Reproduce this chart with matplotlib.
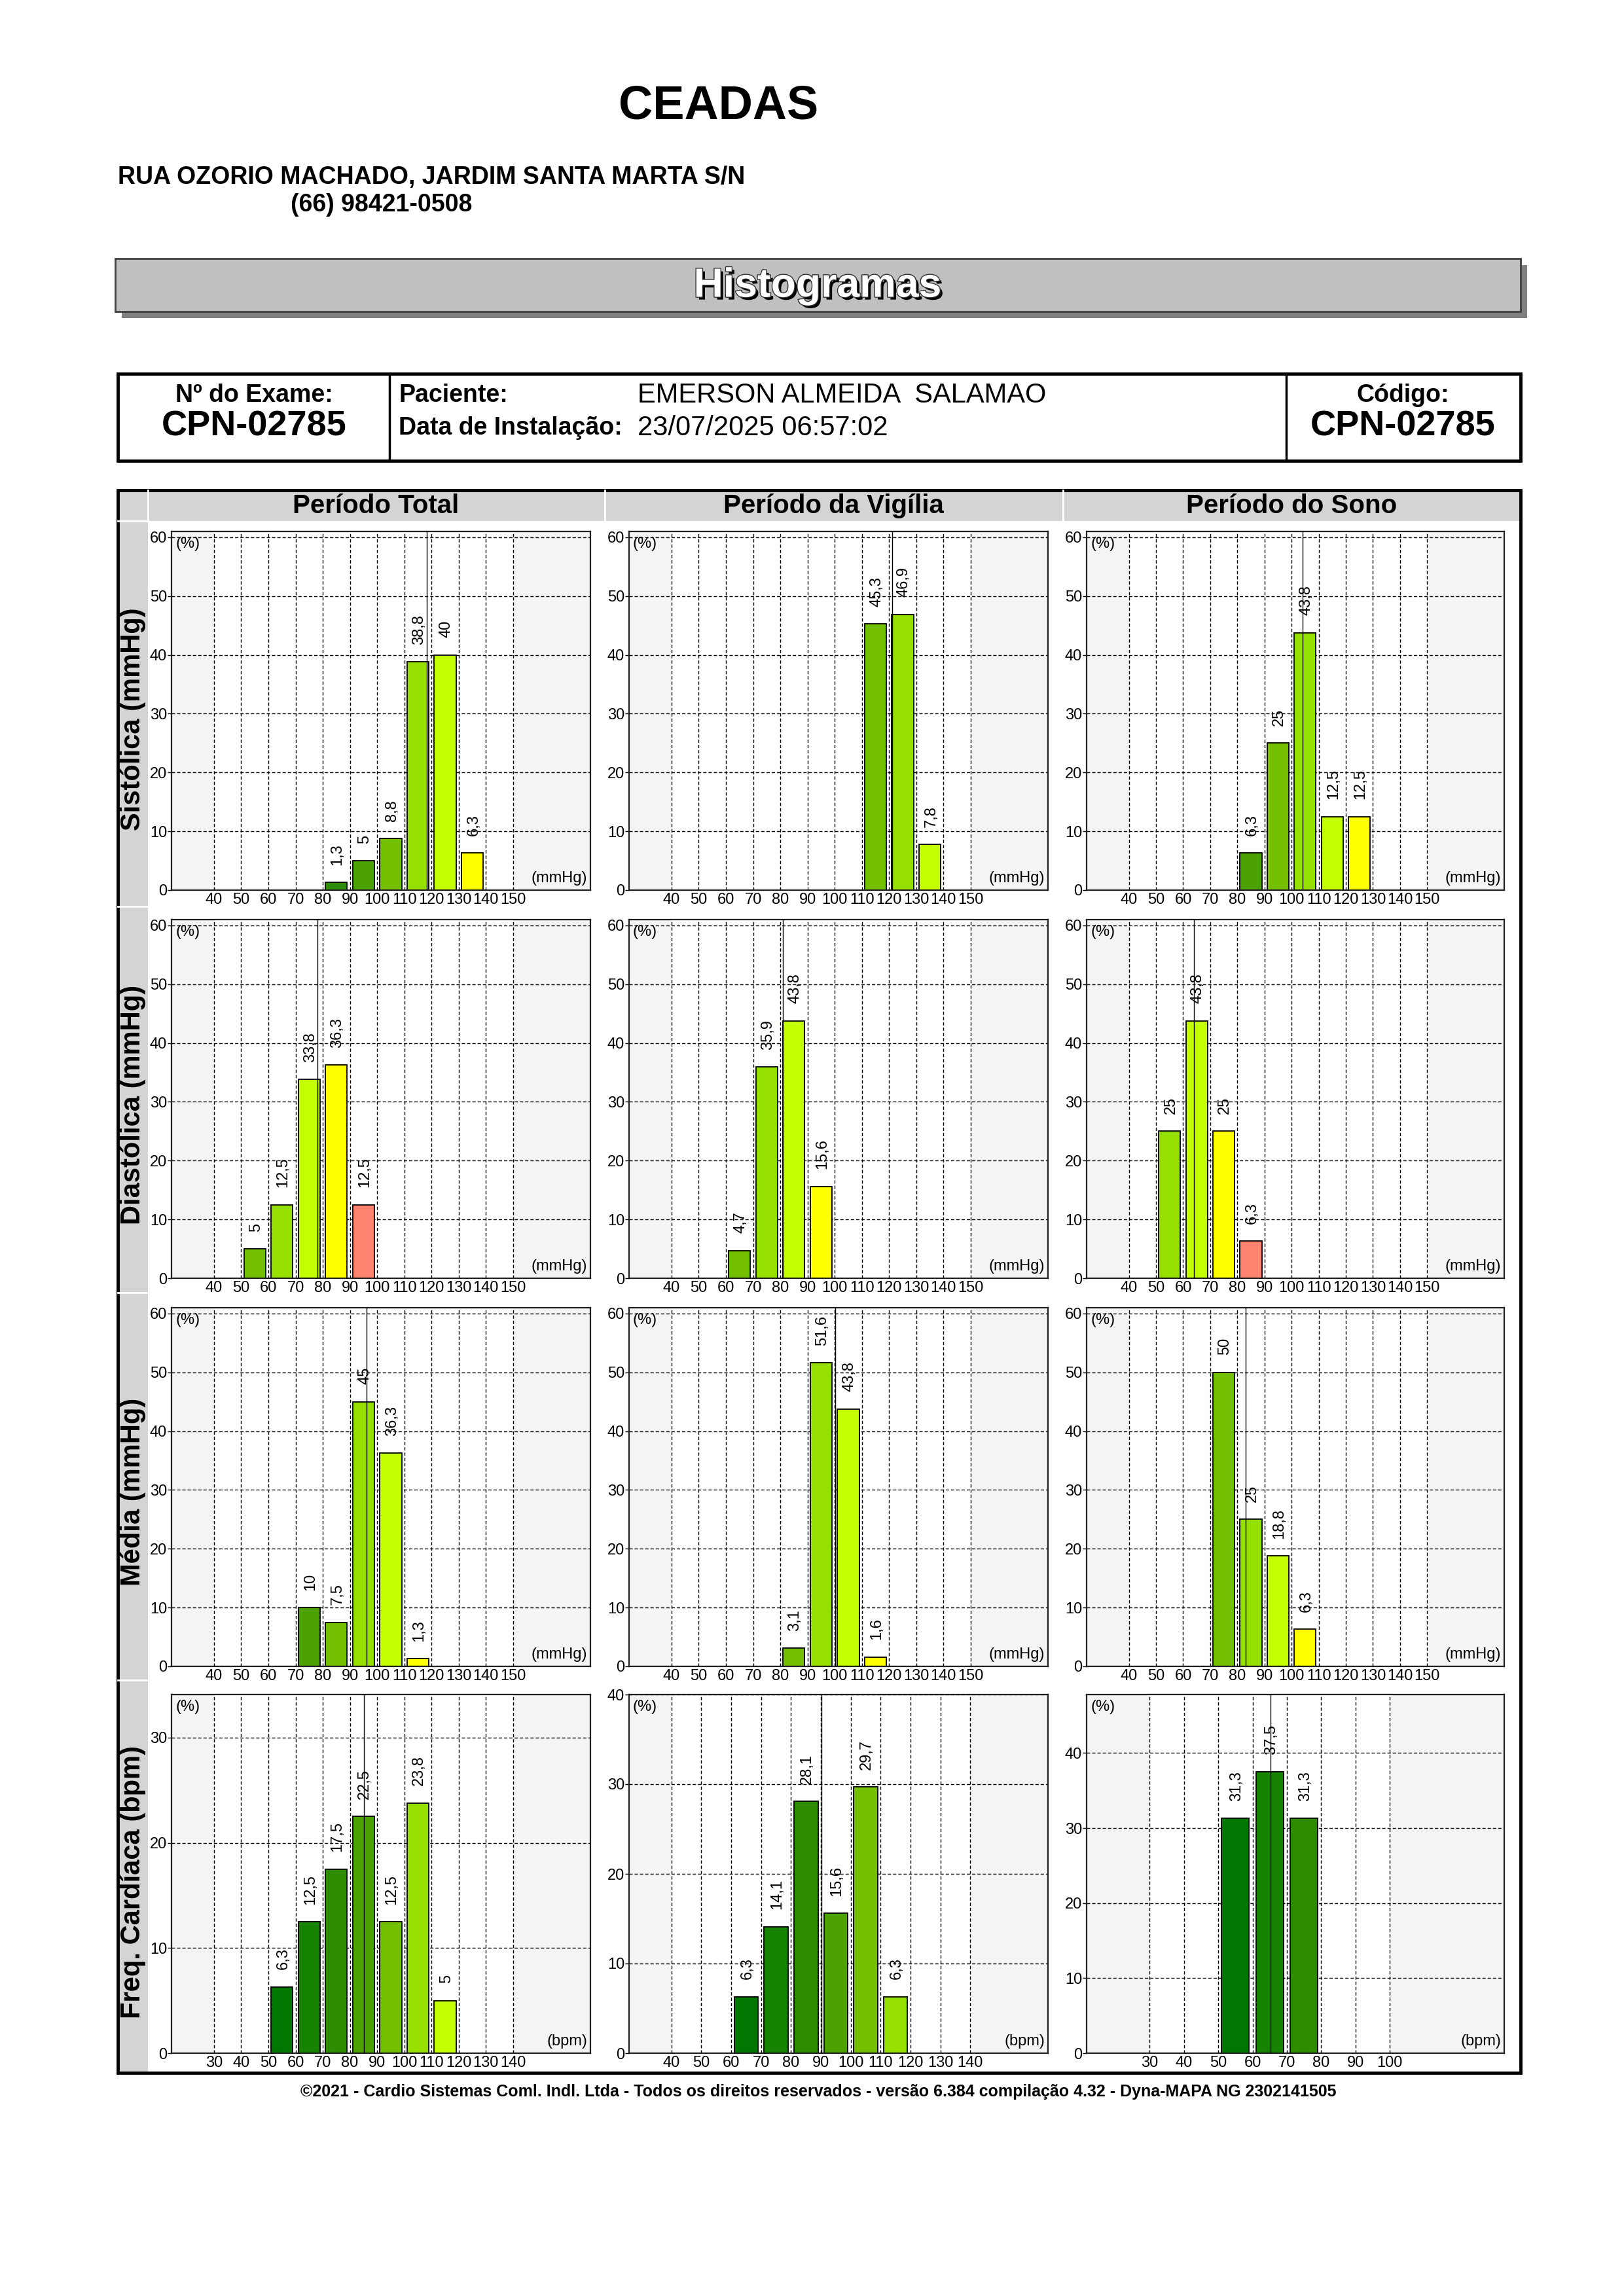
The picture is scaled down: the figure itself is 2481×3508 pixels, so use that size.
import numpy as np
import matplotlib
matplotlib.use('Agg')
import matplotlib.pyplot as plt
import matplotlib.patheffects as pe
from matplotlib.patches import Rectangle

plt.rcParams['font.family'] = ['Liberation Sans', 'DejaVu Sans']

W, H = 2481, 3508                   # page size in pixels

clinic = 'CEADAS'
address = 'RUA OZORIO MACHADO, JARDIM SANTA MARTA S/N'
phone = '(66) 98421-0508'
exam_no = 'CPN-02785'
patient = 'EMERSON ALMEIDA  SALAMAO'
install_date = '23/07/2025 06:57:02'
code = 'CPN-02785'
footer = ('\u00a92021 - Cardio Sistemas Coml. Indl. Ltda - Todos os direitos reservados - '
          'vers\u00e3o 6.384 compila\u00e7\u00e3o 4.32 - Dyna-MAPA NG 2302141505')

periods = ['Per\u00edodo Total', 'Per\u00edodo da Vig\u00edlia', 'Per\u00edodo do Sono']
rows = ['Sist\u00f3lica (mmHg)', 'Diast\u00f3lica (mmHg)', 'M\u00e9dia (mmHg)', 'Freq. Card\u00edaca (bpm)']

# bins are the left edge of each 10-unit class, values in %
sist_total_bins = [80, 90, 100, 110, 120, 130]
sist_total_vals = [1.3, 5, 8.8, 38.8, 40, 6.3]
sist_vig_bins = [110, 120, 130]
sist_vig_vals = [45.3, 46.9, 7.8]
sist_sono_bins = [80, 90, 100, 110, 120]
sist_sono_vals = [6.3, 25, 43.8, 12.5, 12.5]

diast_total_bins = [50, 60, 70, 80, 90]
diast_total_vals = [5, 12.5, 33.8, 36.3, 12.5]
diast_vig_bins = [60, 70, 80, 90]
diast_vig_vals = [4.7, 35.9, 43.8, 15.6]
diast_sono_bins = [50, 60, 70, 80]
diast_sono_vals = [25, 43.8, 25, 6.3]

media_total_bins = [70, 80, 90, 100, 110]
media_total_vals = [10, 7.5, 45, 36.3, 1.3]
media_vig_bins = [80, 90, 100, 110]
media_vig_vals = [3.1, 51.6, 43.8, 1.6]
media_sono_bins = [70, 80, 90, 100]
media_sono_vals = [50, 25, 18.8, 6.3]

fc_total_bins = [50, 60, 70, 80, 90, 100, 110]
fc_total_vals = [6.3, 12.5, 17.5, 22.5, 12.5, 23.8, 5]
fc_vig_bins = [60, 70, 80, 90, 100, 110]
fc_vig_vals = [6.3, 14.1, 28.1, 15.6, 29.7, 6.3]
fc_sono_bins = [50, 60, 70]
fc_sono_vals = [31.3, 37.5, 31.3]

# mean value marked by the vertical line
sist_means = [118.2, 121.1, 104.0]
diast_means = [78.1, 81.0, 64.0]
media_means = [96.1, 100.2, 83.1]
fc_means = [85.2, 90.3, 65.2]

# tick labels of the x axes
bp_ticks = list(range(40, 160, 10))
fc_total_ticks = list(range(30, 150, 10))
fc_vig_ticks = list(range(40, 150, 10))
fc_sono_ticks = list(range(30, 110, 10))

# ---------------- styles ----------------
palette = ['#007800', '#158300', '#2e8c00', '#4ba200', '#74bf00',
           '#96e000', '#c4ff00', '#ffff00', '#ff8470']
sist_colors = [[2, 3, 4, 5, 6, 7], [4, 5, 6], [3, 4, 5, 6, 7]]
diast_colors = [[4, 5, 6, 7, 8], [4, 5, 6, 7], [5, 6, 7, 8]]
media_colors = [[3, 4, 5, 6, 7], [4, 5, 6, 7], [4, 5, 6, 7]]
fc_colors = [[0, 1, 2, 3, 4, 5, 6], [0, 1, 2, 3, 4, 5], [0, 1, 2]]

panels = [
    [(sist_total_bins, sist_total_vals), (sist_vig_bins, sist_vig_vals), (sist_sono_bins, sist_sono_vals)],
    [(diast_total_bins, diast_total_vals), (diast_vig_bins, diast_vig_vals), (diast_sono_bins, diast_sono_vals)],
    [(media_total_bins, media_total_vals), (media_vig_bins, media_vig_vals), (media_sono_bins, media_sono_vals)],
    [(fc_total_bins, fc_total_vals), (fc_vig_bins, fc_vig_vals), (fc_sono_bins, fc_sono_vals)],
]
means = [sist_means, diast_means, media_means, fc_means]
colors = [sist_colors, diast_colors, media_colors, fc_colors]

col_x = [(262, 902), (961, 1601), (1660, 2298)]          # axes left/right (px)
row_y = [(812, 1360), (1405, 1953), (1998, 2546), (2589, 3137)]
row_cells = [(796, 1385), (1385, 1975), (1975, 2567), (2567, 3167)]
col_cells = [(226, 923), (924, 1623), (1624, 2323)]


def fig_rect(x0, y0, x1, y1):
    return [x0 / W, 1 - y1 / H, (x1 - x0) / W, (y1 - y0) / H]


def fmt(v):
    return ('%g' % v).replace('.', ',')


fig = plt.figure(figsize=(W / 100, H / 100), dpi=100)
bg = fig.add_axes([0, 0, 1, 1])
bg.set_xlim(0, W)
bg.set_ylim(H, 0)
bg.axis('off')

# header
bg.text(1098, 162, clinic, ha='center', va='center', fontsize=52, fontweight='bold')
bg.text(180, 271, address, ha='left', va='center', fontsize=27, fontweight='bold')
bg.text(444, 313, phone, ha='left', va='center', fontsize=27, fontweight='bold')

# "Histogramas" banner
bg.add_patch(Rectangle((186, 405), 2147, 81, facecolor='#808080', edgecolor='none'))
bg.add_patch(Rectangle((176, 395), 2147, 81, facecolor='#c0c0c0', edgecolor='#404040', lw=2))
bg.text(1249, 437, 'Histogramas', ha='center', va='center', fontsize=45, fontweight='bold',
        color='white',
        path_effects=[pe.SimplePatchShadow(offset=(3, -3), shadow_rgbFace='black', alpha=1),
                      pe.Stroke(linewidth=2, foreground='#303030'), pe.Normal()])

# patient info box
bg.add_patch(Rectangle((180, 571), 2143, 133, facecolor='white', edgecolor='black', lw=3.5))
bg.plot([595, 595], [571, 704], color='black', lw=2.5)
bg.plot([1965, 1965], [571, 704], color='black', lw=2.5)
bg.text(388, 604, 'N\u00ba do Exame:', ha='center', va='center', fontsize=27, fontweight='bold')
bg.text(388, 652, exam_no, ha='center', va='center', fontsize=39, fontweight='bold')
bg.text(609, 604, 'Paciente:', ha='left', va='center', fontsize=27, fontweight='bold')
bg.text(609, 654, 'Data de Instala\u00e7\u00e3o:', ha='left', va='center', fontsize=27, fontweight='bold')
bg.text(974, 604, patient, ha='left', va='center', fontsize=30)
bg.text(974, 654, install_date, ha='left', va='center', fontsize=30)
bg.text(2143, 604, 'C\u00f3digo:', ha='center', va='center', fontsize=27, fontweight='bold')
bg.text(2143, 652, code, ha='center', va='center', fontsize=39, fontweight='bold')

# histogram frame: header row and left strip
bg.add_patch(Rectangle((180, 749), 2143, 2418, facecolor='white', edgecolor='none'))
bg.add_patch(Rectangle((180, 749), 46, 2418, facecolor='#d4d4d4', edgecolor='none'))
for (c0, c1), name in zip(col_cells, periods):
    bg.add_patch(Rectangle((c0, 749), c1 - c0, 47, facecolor='#d4d4d4', edgecolor='none'))
    bg.text((c0 + c1) / 2, 773, name, ha='center', va='center', fontsize=29, fontweight='bold')
for c0, c1 in col_cells:
    bg.plot([c0, c0], [749, 796], color='white', lw=2)
for (r0, r1), name in zip(row_cells, rows):
    bg.plot([180, 226], [r0, r0], color='white', lw=2)
    bg.text(203, (r0 + r1) / 2 + 8, name, ha='center', va='center', rotation=90,
            fontsize=30, fontweight='bold')
bg.add_patch(Rectangle((180, 749), 2143, 2418, facecolor='none', edgecolor='black', lw=3.5))

bg.text(1250, 3196, footer, ha='center', va='center', fontsize=18, fontweight='bold')

# ---------------- the twelve histograms ----------------
for r in range(4):
    for c in range(3):
        bins, vals = panels[r][c]
        x0, x1 = col_x[c]
        y0, y1 = row_y[r]
        ax = fig.add_axes(fig_rect(x0, y0, x1, y1))

        if r < 3:
            ticks = bp_ticks
            xlim = (24.4, 178.4)
            ytop = 61
            yticks = list(range(0, 70, 10))
            unit = '(mmHg)'
        else:
            ticks = [fc_total_ticks, fc_vig_ticks, fc_sono_ticks][c]
            xlim = [(14.4, 168.4), (25.8, 166.0), (11.6, 133.4)][c]
            ytop = max(vals) + 10.3
            yticks = list(range(0, int(ytop) + 1, 10))
            unit = '(bpm)'

        ax.set_facecolor('#f4f4f4')
        ax.axvspan(ticks[0], ticks[-1], color='white', zorder=0)
        ax.set_xlim(*xlim)
        ax.set_ylim(0, ytop)

        for t in ticks:
            ax.plot([t, t], [0, ytop], color='black', lw=1.0, ls=(0, (3.6, 2.2)), zorder=1)
        for yt in yticks[1:]:
            ax.axhline(yt, color='black', lw=1.0, ls=(0, (3.6, 2.2)), zorder=1)

        cols = [palette[i] for i in colors[r][c]]
        centers = [b + 5 for b in bins]
        ax.bar(centers, vals, width=8, color=cols, edgecolor='black', lw=1.3, zorder=2)
        for xc, v in zip(centers, vals):
            ax.annotate(fmt(v), xy=(xc + 0.4, v), xytext=(0, 19), textcoords='offset points',
                        ha='center', va='bottom', rotation=90, fontsize=17, zorder=4)

        ax.plot([means[r][c]] * 2, [0, ytop], color='black', lw=1.0, zorder=3)

        ax.set_xticks(ticks)
        ax.set_xticklabels([str(t) for t in ticks], fontsize=17)
        ax.set_yticks(yticks)
        ax.set_yticklabels([str(t) for t in yticks], fontsize=17)
        ax.tick_params(axis='x', length=0, pad=3)
        ax.tick_params(axis='y', length=4, width=1, pad=1)
        for s in ax.spines.values():
            s.set_color('#202020')
            s.set_linewidth(1.6)

        ax.annotate('(%)', xy=(0, 1), xycoords='axes fraction', xytext=(6, -8),
                    textcoords='offset pixels', ha='left', va='top', fontsize=17)
        ax.annotate(unit, xy=(1, 0), xycoords='axes fraction', xytext=(-5, 7),
                    textcoords='offset pixels', ha='right', va='bottom', fontsize=17)

fig.savefig('out.png', dpi=100)
